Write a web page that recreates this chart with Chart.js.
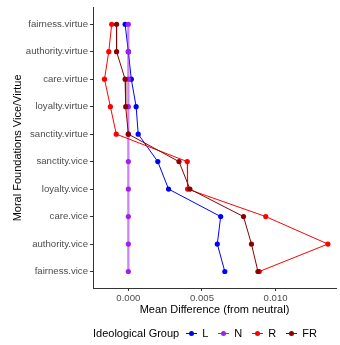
<!DOCTYPE html>
<html><head><meta charset="utf-8">
<script src="https://cdn.jsdelivr.net/npm/chart.js@4"></script>
<style>
html,body{margin:0;padding:0;background:#fff;}
#wrap{position:relative;width:340px;height:345px;}
canvas{position:absolute;left:0;top:0;}
#legend{position:absolute;top:325px;left:93px;height:16px;display:flex;align-items:center;font-family:"Liberation Sans",Arial,sans-serif;font-size:11px;color:#000;white-space:nowrap;}
.key{position:relative;width:11px;height:16px;margin-left:7px;margin-right:5px;}
.key .ln{position:absolute;left:0;right:0;top:7.5px;height:1px;}
.key .pt{position:absolute;left:3px;top:5.5px;width:5px;height:5px;border-radius:50%;}
</style></head>
<body>
<div id="wrap"><canvas id="c" width="340" height="345"></canvas><div id="legend"></div></div>
<script>
const categories = ['fairness.virtue','authority.virtue','care.virtue','loyalty.virtue','sanctity.virtue','sanctity.vice','loyalty.vice','care.vice','authority.vice','fairness.vice'];
const groupNames = ['L','N','R','FR'];
const valuesL  = [-0.00022, 0.00000, 0.00020, 0.00053, 0.00067, 0.00200, 0.00273, 0.00627, 0.00604, 0.00655];
const valuesN  = [0, 0, 0, 0, 0, 0, 0, 0, 0, 0];
const valuesR  = [-0.00113, -0.00133, -0.00162, -0.00122, -0.00082, 0.00400, 0.00402, 0.00933, 0.01355, 0.00889];
const valuesFR = [-0.00080, -0.00080, -0.00022, -0.00018, 0.00000, 0.00344, 0.00418, 0.00782, 0.00836, 0.00880];
const xTicks = [0, 0.005, 0.010];

const colors = {L:'#0000FF', N:'#A020F0', R:'#FF0000', FR:'#8B0000'};
const lineColors = {L:'#0000FF', N:'rgba(160,32,240,0.55)', R:'#FF0000', FR:'#8B0000'};
const lineWidths = {L:1, N:2.3, R:1, FR:1};
const seriesValues = {L:valuesL, N:valuesN, R:valuesR, FR:valuesFR};
const family = '"Liberation Sans", Arial, sans-serif';

// Chart.js draws dataset 0 on top, so reverse ggplot order (FR on top)
const datasets = groupNames.slice().reverse().map(g => ({
  label: g,
  data: seriesValues[g].map((v, i) => ({x: v, y: i + 1})),
  showLine: true,
  borderColor: lineColors[g],
  borderWidth: lineWidths[g],
  backgroundColor: colors[g],
  pointBackgroundColor: colors[g],
  pointBorderColor: colors[g],
  pointBorderWidth: 0,
  pointRadius: 2.6,
  tension: 0,
  clip: false
}));

new Chart(document.getElementById('c'), {
  type: 'scatter',
  data: {datasets},
  options: {
    responsive: false,
    animation: false,
    devicePixelRatio: 1,
    layout: {padding: {top: 7, right: 0, bottom: 28, left: 0}},
    plugins: {legend: {display: false}, tooltip: {enabled: false}},
    scales: {
      x: {
        type: 'linear', min: -0.0024, max: 0.0141,
        afterBuildTicks: a => { a.ticks = xTicks.map(v => ({value: v})); },
        afterFit: a => { a.height = 29; },
        ticks: {callback: v => (Math.abs(v) < 1e-12 ? 0 : Number(v)).toFixed(3), font: {size: 9.6, family}, color: '#4d4d4d', padding: 2, maxRotation: 0, autoSkip: false},
        grid: {display: true, drawOnChartArea: false, drawTicks: true, tickLength: 3, color: '#333'},
        border: {display: true, color: '#333', width: 1},
        title: {display: true, text: 'Mean Difference (from neutral)', font: {size: 11, family}, color: '#000', padding: {top: 0, bottom: 0}}
      },
      y: {
        type: 'linear', reverse: true, min: 0.4, max: 10.6,
        afterBuildTicks: a => { a.ticks = categories.map((c, i) => ({value: i + 1})); },
        afterFit: a => { a.width = 93; },
        ticks: {callback: v => categories[Math.round(v) - 1], font: {size: 9.6, family}, color: '#4d4d4d', padding: 2, autoSkip: false},
        grid: {display: true, drawOnChartArea: false, drawTicks: true, tickLength: 3, color: '#333'},
        border: {display: true, color: '#333', width: 1},
        title: {display: true, text: 'Moral Foundations Vice/Virtue', font: {size: 11, family}, color: '#000', padding: {top: 11, bottom: 0}}
      }
    }
  }
});

// HTML legend
const leg = document.getElementById('legend');
const t = document.createElement('span');
t.textContent = 'Ideological Group';
leg.appendChild(t);
groupNames.forEach(g => {
  const k = document.createElement('span'); k.className = 'key';
  const ln = document.createElement('span'); ln.className = 'ln'; ln.style.background = colors[g];
  const pt = document.createElement('span'); pt.className = 'pt'; pt.style.background = colors[g];
  k.appendChild(ln); k.appendChild(pt); leg.appendChild(k);
  const lab = document.createElement('span'); lab.textContent = g; lab.style.marginRight = '3px';
  leg.appendChild(lab);
});
</script>
</body></html>
